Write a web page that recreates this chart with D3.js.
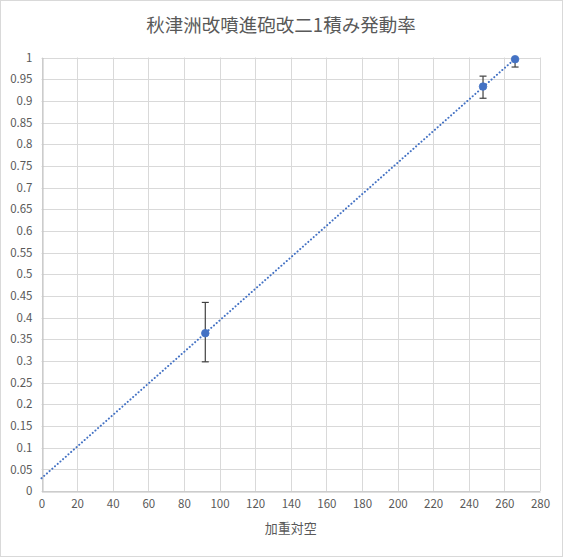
<!DOCTYPE html>
<html>
<head>
<meta charset="utf-8">
<script src="https://cdn.jsdelivr.net/npm/d3@7"></script>
<style>
  html, body { margin: 0; padding: 0; background: #fff; }
  svg { display: block; }
  text { font-family: "Noto Sans CJK JP", "Noto Sans", sans-serif; fill: #595959; }
</style>
</head>
<body>
<svg id="chart" width="563" height="557"></svg>
<script>
// Observations: weighted anti-air vs. activation rate
const weightedAA = [92, 248, 266];
const rate       = [0.364, 0.933, 0.996];
const errLow     = [0.298, 0.906, 0.978];
const errHigh    = [0.435, 0.957, 1.0];

const xTicks = d3.range(0, 281, 20);
const yTicks = d3.range(0, 1.0001, 0.05).map(v => +v.toFixed(2));

const titleText = "秋津洲改噴進砲改二1積み発動率";
const xTitle = "加重対空";

const W = 563, H = 557;
const margin = { left: 41.5, right: 23, top: 57.5, bottom: 66 };

const svg = d3.select("#chart");

// outer chart border
svg.append("rect")
  .attr("x", 0.5).attr("y", 0.5)
  .attr("width", W - 1).attr("height", H - 1)
  .attr("fill", "#fff").attr("stroke", "#d9d9d9");

const x = d3.scaleLinear().domain([0, 280]).range([margin.left, W - margin.right]);
const y = d3.scaleLinear().domain([0, 1]).range([H - margin.bottom, margin.top]);

// gridlines
const grid = svg.append("g");
grid.selectAll("line.h").data(yTicks).join("line")
  .attr("x1", x(0)).attr("x2", x(280))
  .attr("y1", d => Math.round(y(d)) + 0.5).attr("y2", d => Math.round(y(d)) + 0.5)
  .attr("stroke", "#d9d9d9").attr("stroke-width", 1);
grid.selectAll("line.v").data(xTicks).join("line")
  .attr("y1", y(0)).attr("y2", y(1))
  .attr("x1", d => Math.round(x(d)) + 0.5).attr("x2", d => Math.round(x(d)) + 0.5)
  .attr("stroke", "#d9d9d9").attr("stroke-width", 1);

// axes
const xAxis = d3.axisBottom(x).tickValues(xTicks).tickSize(0).tickPadding(8).tickFormat(d3.format("d"));
const gx = svg.append("g")
  .attr("transform", `translate(0,${Math.round(y(0)) + 0.5})`)
  .call(xAxis);
gx.select(".domain").attr("stroke", "#bfbfbf");
gx.selectAll("text").style("font-size", "11.5px").attr("fill", "#595959");

const yAxis = d3.axisLeft(y).tickValues(yTicks).tickSize(0).tickPadding(10)
  .tickFormat(d => d3.format("")(d));
const gy = svg.append("g")
  .attr("transform", `translate(${Math.round(x(0)) + 0.5},0)`)
  .call(yAxis);
gy.select(".domain").attr("stroke", "#bfbfbf");
gy.selectAll("text").style("font-size", "11.5px").attr("fill", "#595959");

// linear trendline (least squares over the observations)
const n = weightedAA.length;
const mx = d3.mean(weightedAA), my = d3.mean(rate);
let sxy = 0, sxx = 0;
for (let i = 0; i < n; i++) {
  sxy += (weightedAA[i] - mx) * (rate[i] - my);
  sxx += (weightedAA[i] - mx) ** 2;
}
const slope = sxy / sxx, intercept = my - slope * mx;
const xEnd = d3.max(weightedAA);
svg.append("line")
  .attr("x1", x(0)).attr("y1", y(intercept))
  .attr("x2", x(xEnd)).attr("y2", y(intercept + slope * xEnd))
  .attr("stroke", "#4472c4").attr("stroke-width", 2)
  .attr("stroke-dasharray", "0.1 3.5").attr("stroke-linecap", "round");

// error bars
const pts = weightedAA.map((v, i) => ({ x: v, y: rate[i], lo: errLow[i], hi: errHigh[i] }));
const eb = svg.append("g").attr("stroke", "#404040").attr("stroke-width", 1.2);
pts.forEach(p => {
  const cx = x(p.x);
  eb.append("line").attr("x1", cx).attr("x2", cx).attr("y1", y(p.lo)).attr("y2", y(p.hi));
  eb.append("line").attr("x1", cx - 3.5).attr("x2", cx + 3.5).attr("y1", y(p.lo)).attr("y2", y(p.lo));
  if (p.hi < 1) {
    eb.append("line").attr("x1", cx - 3.5).attr("x2", cx + 3.5).attr("y1", y(p.hi)).attr("y2", y(p.hi));
  }
});

// markers
svg.append("g").selectAll("circle").data(pts).join("circle")
  .attr("cx", d => x(d.x)).attr("cy", d => y(d.y)).attr("r", 3.8)
  .attr("fill", "#4472c4").attr("stroke", "#4472c4").attr("stroke-width", 0.8);

// titles
svg.append("text")
  .attr("x", 281).attr("y", 32)
  .attr("text-anchor", "middle")
  .style("font-size", "18.5px")
  .text(titleText);

svg.append("text")
  .attr("x", (x(0) + x(280)) / 2).attr("y", 533)
  .attr("text-anchor", "middle")
  .style("font-size", "13px")
  .text(xTitle);
</script>
</body>
</html>
